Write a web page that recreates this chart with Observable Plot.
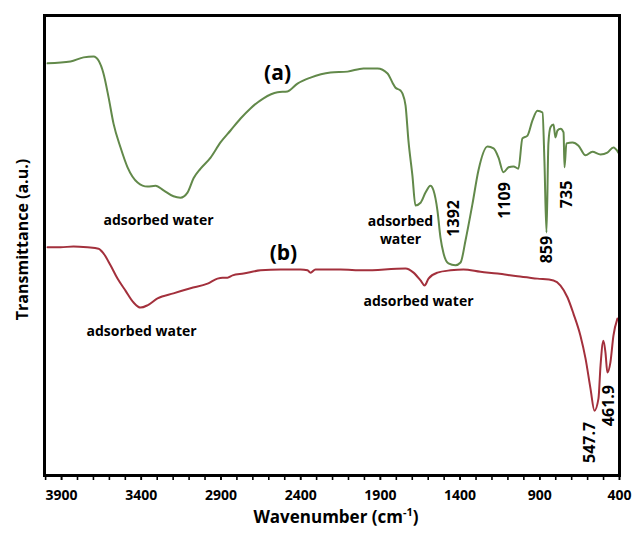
<!DOCTYPE html>
<html>
<head>
<meta charset="utf-8">
<script src="https://cdn.jsdelivr.net/npm/d3@7"></script>
<script src="https://cdn.jsdelivr.net/npm/@observablehq/plot@0.6"></script>
<style>
  html, body { margin: 0; padding: 0; background: #fff; }
</style>
</head>
<body>
<div id="chart"></div>
<script>
// Spectrum (a) — wavenumber (cm-1) and transmittance (a.u.)
const wnA = [3988,3844,3762,3699,3668,3637,3605,3574,3530,3486,3423,3361,3310,3260,3198,3154,3110,3072,3028,2965,2903,2840,2777,2715,2633,2545,2483,2420,2338,2213,2106,2006,1918,1855,1824,1805,1774,1761,1742,1724,1699,1680,1648,1617,1586,1567,1542,1523,1504,1473,1429,1397,1366,1322,1285,1228,1190,1159,1128,1096,1065,1034,1009,977,946,915,883,871,858,846,833,814,802,789,770,751,745,733,695,657,613,570,519,476,438,407];
const tA = [89.6,90.0,90.9,91.1,90.2,87.4,82.2,76.5,71.3,67.0,63.7,62.8,63.0,62.0,60.7,60.4,61.5,64.6,66.7,69.1,72.4,75.0,77.6,79.8,82.0,83.3,83.5,85.2,86.5,87.6,87.8,88.5,88.5,87.4,85.4,84.3,83.7,83.0,80.4,72.8,65.2,58.7,59.3,61.5,63.0,62.0,57.6,51.7,48.3,46.1,45.7,46.3,51.1,59.1,66.3,71.5,71.1,69.1,65.9,67.0,67.2,66.7,73.3,73.9,77.2,79.3,78.9,68.5,52.8,72.2,75.7,76.3,73.5,75.0,75.4,74.6,67.0,72.2,72.4,71.7,69.6,70.4,69.8,70.2,71.3,70.2];

// Spectrum (b)
const wnB = [3988,3906,3825,3737,3668,3637,3593,3549,3499,3448,3405,3361,3298,3198,3091,2984,2922,2890,2859,2827,2758,2652,2526,2401,2357,2338,2307,2150,2006,1742,1692,1648,1623,1598,1542,1460,1379,1272,1165,1040,915,814,770,726,689,645,613,582,557,532,519,501,488,476,457,438,413];
const tB = [49.6,49.6,49.8,49.6,49.3,48.3,45.7,42.8,40.2,37.6,36.5,37.0,38.5,39.6,40.7,41.7,42.8,43.0,43.0,43.5,43.9,44.6,44.8,44.8,44.6,44.1,44.8,44.8,44.6,45.0,44.1,42.4,41.3,42.8,44.1,44.6,44.8,44.3,43.9,43.3,42.8,42.4,41.3,38.7,35.2,30.4,25.4,18.9,14.1,16.7,23.9,29.3,26.7,22.4,24.6,30.4,34.1];

// Tick values
const majorTicks = [3900, 3400, 2900, 2400, 1900, 1400, 900, 400];
const minorTicks = d3.range(400, 4001, 100);

// Annotations
const noteText = ["(a)", "(b)", "adsorbed water", "adsorbed", "water", "adsorbed water", "adsorbed water"];
const noteWn   = [2545, 2508, 3292, 1774, 1774, 3398, 1661];
const noteT    = [87.4, 48.3, 55.4, 55.2, 51.3, 31.3, 37.8];
const noteSize = [21, 21, 14, 14, 14, 14, 14];

const peakText = ["1392", "1109", "859", "735", "547.7", "461.9"];
const peakWn   = [1441, 1122, 858, 733, 588, 469];
const peakT    = [55.9, 59.8, 49.1, 61.1, 7.2, 15.2];

const seriesA = wnA.map((w, i) => ({wn: w, t: tA[i]}));
const seriesB = wnB.map((w, i) => ({wn: w, t: tB[i]}));
const notes = noteText.map((s, i) => ({s, wn: noteWn[i], t: noteT[i], size: noteSize[i]}));
const peaks = peakText.map((s, i) => ({s, wn: peakWn[i], t: peakT[i]}));

const chart = Plot.plot({
  width: 633,
  height: 534,
  marginLeft: 44,
  marginRight: 14,
  marginTop: 15,
  marginBottom: 59,
  style: {fontFamily: "Open Sans", fontWeight: "bold", fontSize: "14px", color: "black", background: "white"},
  x: {domain: [4007, 400]},
  y: {domain: [0, 100], axis: null},
  marks: [
    Plot.line(seriesA, {x: "wn", y: "t", stroke: "#62894a", strokeWidth: 2, curve: "monotone-x"}),
    Plot.line(seriesB, {x: "wn", y: "t", stroke: "#a3303c", strokeWidth: 2, curve: "monotone-x"}),
    Plot.axisX({ticks: minorTicks, tickSize: 5, tickFormat: () => "", label: null, strokeWidth: 1.6}),
    Plot.axisX({ticks: majorTicks, tickSize: 5, tickPadding: 10, tickFormat: d => String(d), label: null, strokeWidth: 1.6, fill: "black"}),
    Plot.frame({stroke: "black", strokeWidth: 3}),
    Plot.text(notes, {x: "wn", y: "t", text: "s", fontSize: d => d.size, fill: "black"}),
    Plot.text(peaks, {x: "wn", y: "t", text: "s", rotate: -90, fontSize: 16, fill: "black"}),
    Plot.text(["Transmittance (a.u.)"], {text: d => d, frameAnchor: "left", textAnchor: "middle", rotate: -90, dx: -22, dy: -6, fontSize: 16, fill: "black"}),
    Plot.text(["Wavenumber (cm-1)"], {text: d => d, frameAnchor: "bottom", dx: 4, dy: 47, fontSize: 17, fill: "black"})
  ]
});

for (const t of chart.querySelectorAll("text")) {
  if (t.textContent === "Wavenumber (cm-1)") {
    t.innerHTML = 'Wavenumber (cm<tspan dy="-7" font-size="11">-1</tspan><tspan dy="7">)</tspan>';
  }
}

document.getElementById("chart").appendChild(chart);
</script>
</body>
</html>
